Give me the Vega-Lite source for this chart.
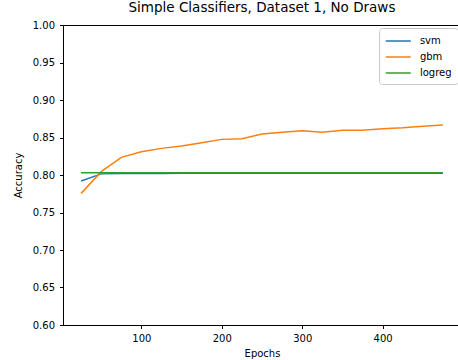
{
  "$schema": "https://vega.github.io/schema/vega-lite/v6.json",
  "width": 398,
  "height": 300,
  "autosize": {"type": "none"},
  "padding": {"left": 63, "top": 25, "right": 0, "bottom": 35},
  "title": {"text": "Simple Classifiers, Dataset 1, No Draws", "font": "DejaVu Sans", "fontSize": 13.5, "fontWeight": "normal", "color": "black", "offset": 6},
  "config": {
    "view": {"stroke": "black", "strokeWidth": 1},
    "axis": {"labelFont": "DejaVu Sans", "titleFont": "DejaVu Sans", "labelFontSize": 10, "titleFontSize": 10, "titleFontWeight": "normal", "labelColor": "black", "titleColor": "black", "tickColor": "black", "domainColor": "black", "grid": false, "tickSize": 3.5}
  },
  "data": {"values": [
    {"epoch": 25, "acc": 0.792, "model": "svm"},
    {"epoch": 50, "acc": 0.8015, "model": "svm"},
    {"epoch": 75, "acc": 0.802, "model": "svm"},
    {"epoch": 100, "acc": 0.802, "model": "svm"},
    {"epoch": 125, "acc": 0.802, "model": "svm"},
    {"epoch": 150, "acc": 0.8022, "model": "svm"},
    {"epoch": 175, "acc": 0.8022, "model": "svm"},
    {"epoch": 200, "acc": 0.8022, "model": "svm"},
    {"epoch": 225, "acc": 0.8022, "model": "svm"},
    {"epoch": 250, "acc": 0.8022, "model": "svm"},
    {"epoch": 275, "acc": 0.8022, "model": "svm"},
    {"epoch": 300, "acc": 0.8022, "model": "svm"},
    {"epoch": 325, "acc": 0.8022, "model": "svm"},
    {"epoch": 350, "acc": 0.8022, "model": "svm"},
    {"epoch": 375, "acc": 0.8022, "model": "svm"},
    {"epoch": 400, "acc": 0.8022, "model": "svm"},
    {"epoch": 425, "acc": 0.8022, "model": "svm"},
    {"epoch": 450, "acc": 0.8022, "model": "svm"},
    {"epoch": 475, "acc": 0.8022, "model": "svm"},
    {"epoch": 25, "acc": 0.7755, "model": "gbm"},
    {"epoch": 50, "acc": 0.8045, "model": "gbm"},
    {"epoch": 75, "acc": 0.8235, "model": "gbm"},
    {"epoch": 100, "acc": 0.831, "model": "gbm"},
    {"epoch": 125, "acc": 0.8355, "model": "gbm"},
    {"epoch": 150, "acc": 0.8387, "model": "gbm"},
    {"epoch": 175, "acc": 0.843, "model": "gbm"},
    {"epoch": 200, "acc": 0.8475, "model": "gbm"},
    {"epoch": 225, "acc": 0.8484, "model": "gbm"},
    {"epoch": 250, "acc": 0.8547, "model": "gbm"},
    {"epoch": 275, "acc": 0.857, "model": "gbm"},
    {"epoch": 300, "acc": 0.859, "model": "gbm"},
    {"epoch": 325, "acc": 0.857, "model": "gbm"},
    {"epoch": 350, "acc": 0.8596, "model": "gbm"},
    {"epoch": 375, "acc": 0.8596, "model": "gbm"},
    {"epoch": 400, "acc": 0.8618, "model": "gbm"},
    {"epoch": 425, "acc": 0.863, "model": "gbm"},
    {"epoch": 450, "acc": 0.865, "model": "gbm"},
    {"epoch": 475, "acc": 0.8667, "model": "gbm"},
    {"epoch": 25, "acc": 0.803, "model": "logreg"},
    {"epoch": 50, "acc": 0.803, "model": "logreg"},
    {"epoch": 75, "acc": 0.803, "model": "logreg"},
    {"epoch": 100, "acc": 0.803, "model": "logreg"},
    {"epoch": 125, "acc": 0.803, "model": "logreg"},
    {"epoch": 150, "acc": 0.803, "model": "logreg"},
    {"epoch": 175, "acc": 0.803, "model": "logreg"},
    {"epoch": 200, "acc": 0.803, "model": "logreg"},
    {"epoch": 225, "acc": 0.803, "model": "logreg"},
    {"epoch": 250, "acc": 0.803, "model": "logreg"},
    {"epoch": 275, "acc": 0.803, "model": "logreg"},
    {"epoch": 300, "acc": 0.803, "model": "logreg"},
    {"epoch": 325, "acc": 0.803, "model": "logreg"},
    {"epoch": 350, "acc": 0.803, "model": "logreg"},
    {"epoch": 375, "acc": 0.803, "model": "logreg"},
    {"epoch": 400, "acc": 0.803, "model": "logreg"},
    {"epoch": 425, "acc": 0.803, "model": "logreg"},
    {"epoch": 450, "acc": 0.803, "model": "logreg"},
    {"epoch": 475, "acc": 0.803, "model": "logreg"}
  ]},
  "mark": {"type": "line", "strokeWidth": 1.5},
  "encoding": {
    "x": {"field": "epoch", "type": "quantitative", "scale": {"domain": [2.5, 497.5], "nice": false, "zero": false}, "axis": {"title": "Epochs", "values": [100, 200, 300, 400], "titlePadding": 5, "labelPadding": 5}},
    "y": {"field": "acc", "type": "quantitative", "scale": {"domain": [0.6, 1.0], "nice": false, "zero": false}, "axis": {"title": "Accuracy", "values": [0.6, 0.65, 0.7, 0.75, 0.8, 0.85, 0.9, 0.95, 1.0], "format": ".2f", "titlePadding": 9, "labelPadding": 5}},
    "color": {"field": "model", "type": "nominal", "scale": {"domain": ["svm", "gbm", "logreg"], "range": ["#1f77b4", "#ff7f0e", "#2ca02c"]}, "legend": {"title": null, "orient": "none", "legendX": 316, "legendY": 3, "symbolType": "M-1,0L3,0", "symbolSize": 156.25, "symbolStrokeWidth": 1.5, "labelOffset": 20.9, "labelFont": "DejaVu Sans", "labelFontSize": 10, "labelColor": "black", "strokeColor": "#c8c8c8", "fillColor": "white", "cornerRadius": 3, "padding": 6, "rowPadding": 4}}
  }
}
